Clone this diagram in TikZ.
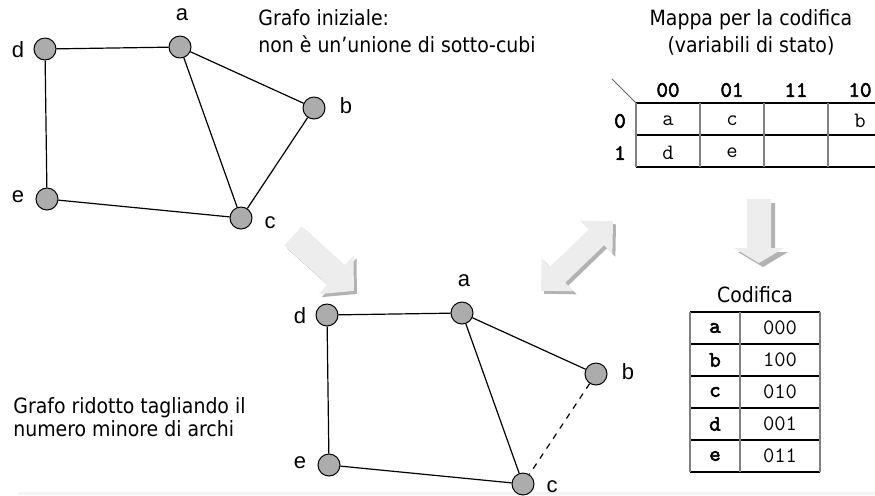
\documentclass[tikz,border=0pt]{standalone}
\usepackage{fontspec}
\setmainfont{DejaVu Sans Condensed}
\newfontfamily\nomefont{Liberation Sans}
\newfontfamily\grassettott{Latin Modern Mono}[FakeBold=2.5]
\definecolor{fondo}{RGB}{243,243,250}
\tikzset{
  vertice/.style={circle, draw, fill=gray!65, minimum size=11pt, inner sep=0pt, line width=0.5pt},
  nome/.style={font=\nomefont\fontsize{11}{13}\selectfont, inner sep=0pt},
  arco/.style={line width=0.6pt},
  testo/.style={font=\fontsize{10.5}{13.5}\selectfont, inner sep=0pt, align=left},
  cella/.style={font=\ttfamily\fontsize{11}{12}\selectfont, inner sep=0pt},
  intest/.style={font=\grassettott\fontsize{11}{12}\selectfont, inner sep=0pt},
  rigaT/.style={line width=0.7pt},
  colT/.style={gray, line width=1pt},
  freccia/.style={fill=gray!14},
  ombra/.style={fill=gray!60}
}

\begin{document}
\begin{tikzpicture}[x=0.5pt, y=-0.5pt]
    \useasboundingbox (0,0) rectangle (875,495);
    \clip (0,0) rectangle (875,495);
    \fill[fondo] (18,492) rectangle (875,495);

    % grafo iniziale
    \node[vertice] (d1) at (45,49) {};
    \node[vertice] (a1) at (180,47) {};
    \node[vertice] (b1) at (314,108) {};
    \node[vertice] (e1) at (47,199) {};
    \node[vertice] (c1) at (241,218) {};
    \node[nome] (la1) at (182,15) {a};
    \node[nome] (ld1) at (18,50) {d};
    \node[nome] (lb1) at (346,106) {b};
    \node[nome] (le1) at (18,197) {e};
    \node[nome] (lc1) at (270,223) {c};
    \draw[arco] (d1) -- (a1) (d1) -- (e1) (e1) -- (c1) (a1) -- (c1) (a1) -- (b1) (b1) -- (c1);
    \node[testo, anchor=north west] (tiniz) at (258,9) {Grafo iniziale:\\non è un’unione di sotto-cubi};

    % grafo ridotto
    \begin{scope}[shift={(282,266)}]
        \node[vertice] (d2) at (45,49) {};
        \node[vertice] (a2) at (180,47) {};
        \node[vertice] (b2) at (314,108) {};
        \node[vertice] (e2) at (47,199) {};
        \node[vertice] (c2) at (241,218) {};
        \node[nome] (la2) at (182,15) {a};
        \node[nome] (ld2) at (18,50) {d};
        \node[nome] (lb2) at (346,106) {b};
        \node[nome] (le2) at (18,197) {e};
        \node[nome] (lc2) at (270,221) {c};
        \draw[arco] (d2) -- (a2) (d2) -- (e2) (e2) -- (c2) (a2) -- (c2) (a2) -- (b2);
        \draw[arco, dashed] (b2) -- (c2);
    \end{scope}
    \node[testo, anchor=north west, font=\fontsize{10.5}{11.5}\selectfont] (trid) at (13,397) {Grafo ridotto tagliando il\\numero minore di archi};

    % frecce
    \foreach \o/\stile in {3/ombra, 0/freccia}
        \fill[\stile, shift={(293+\o,236+\o)}, rotate=-42] (0,-13) -- (58,-13) -- (58,-26) -- (82,0) -- (58,26) -- (58,13) -- (0,13) -- cycle;
    \foreach \o/\stile in {3/ombra, 0/freccia}
        \fill[\stile, shift={(577+\o,256+\o)}, rotate=44] (-50,0) -- (-27,23) -- (-27,11) -- (27,11) -- (27,23) -- (50,0) -- (27,-23) -- (27,-11) -- (-27,-11) -- (-27,-23) -- cycle;
    \foreach \o/\stile in {4/ombra, 0/freccia}
        \fill[\stile, shift={(759+\o,200+\o-1)}, rotate=-90] (0,-12) -- (49,-12) -- (49,-25) -- (64,0) -- (49,25) -- (49,12) -- (0,12) -- cycle;

    % mappa
    \node[testo, anchor=north, align=center] (tmappa) at (751,9) {Mappa per la codifica\\(variabili di stato)};
    \node[intest] (k00) at (668,90) {00};
    \node[intest] (k01) at (732,90) {01};
    \node[intest] (k11) at (796,90) {11};
    \node[intest] (k10) at (860,90) {10};
    \node[intest] (r0) at (620,121) {0};
    \node[intest] (r1) at (620,153) {1};
    \node[cella] (ka) at (668,121) {a};
    \node[cella] (kc) at (732,121) {c};
    \node[cella] (kb) at (860,121) {b};
    \node[cella] (kd) at (668,153) {d};
    \node[cella] (ke) at (732,153) {e};
    \draw[gray!80!black, line width=0.5pt] (612,79) -- (636,103);
    \foreach \y in {103,135,167}
        \draw[rigaT] (636,\y) -- (892,\y);
    \foreach \x in {636,700,764,828,892}
        \draw[colT] (\x,103) -- (\x,167);

    % codifica
    \node[testo, anchor=base] (tcod) at (755,302) {Codifica};
    \foreach \s/\c [count=\i] in {a/000, b/100, c/010, d/001, e/011} {
        \node[intest] (s\s) at (715,296+32*\i) {\s};
        \node[cella] (v\s) at (780,296+32*\i) {\c};
    }
    \foreach \y in {312,344,...,472}
        \draw[rigaT] (690,\y) -- (820,\y);
    \foreach \x in {690,740,820}
        \draw[colT] (\x,312) -- (\x,472);
\end{tikzpicture}
\end{document}
